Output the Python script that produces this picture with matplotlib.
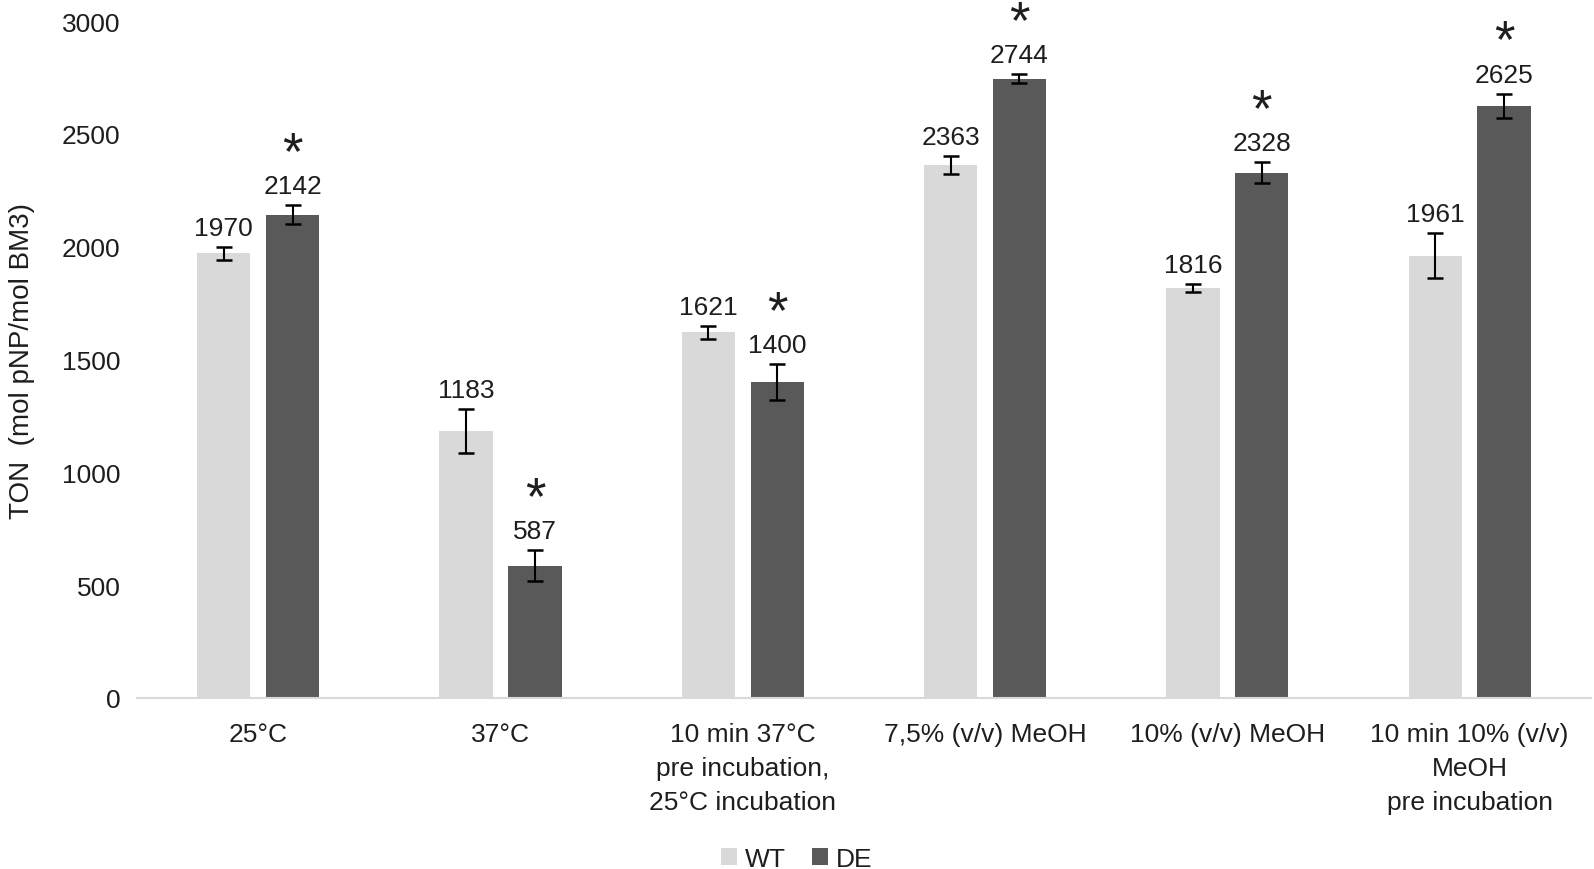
import numpy as np
import matplotlib.pyplot as plt

categories = [
    '25°C',
    '37°C',
    '10 min 37°C\npre incubation,\n25°C incubation',
    '7,5% (v/v) MeOH',
    '10% (v/v) MeOH',
    '10 min 10% (v/v)\nMeOH\npre incubation',
]
wt_values = [1970, 1183, 1621, 2363, 1816, 1961]
de_values = [2142, 587, 1400, 2744, 2328, 2625]
wt_errors = [30, 96, 29, 39, 18, 98]
de_errors = [42, 67, 79, 20, 47, 53]
de_significant = [True, True, True, True, True, True]
y_ticks = [0, 500, 1000, 1500, 2000, 2500, 3000]

plt.rcParams['font.family'] = ['Liberation Sans', 'DejaVu Sans']
text_color = '#1e1e1e'

fig = plt.figure(figsize=(15.94, 8.70), dpi=100)
ax = fig.add_axes([0.086, 0.1966, 0.912, 0.778])

x = np.arange(len(categories))
width = 0.22
offset = 0.142

wt_bars = ax.bar(x - offset, wt_values, width, color='#d9d9d9', label='WT', zorder=2)
de_bars = ax.bar(x + offset, de_values, width, color='#595959', label='DE', zorder=2)

err_style = dict(fmt='none', ecolor='black', elinewidth=1.5, capsize=6, capthick=1.8, zorder=3)
ax.errorbar(x - offset, wt_values, yerr=wt_errors, **err_style)
ax.errorbar(x + offset, de_values, yerr=de_errors, **err_style)

# value labels sit just above the error bars
for xs, vals, errs in ((x - offset, wt_values, wt_errors), (x + offset, de_values, de_errors)):
    for xi, v, e in zip(xs, vals, errs):
        ax.annotate(f'{v}', (xi, v + e), xytext=(0, 5), textcoords='offset points',
                    ha='center', va='bottom', fontsize=19, color=text_color)

for xi, v, e, sig in zip(x + offset, de_values, de_errors, de_significant):
    if sig:
        ax.annotate('*', (xi, v + e), xytext=(0, 19), textcoords='offset points',
                    ha='center', va='bottom', fontsize=38, color=text_color,
                    annotation_clip=False)

ax.set_xlim(-0.5, len(categories) - 0.5)
ax.set_ylim(0, 3000)
ax.set_yticks(y_ticks)
ax.set_xticks(x)
ax.set_xticklabels(categories, fontsize=19, color=text_color, linespacing=1.55)
ax.tick_params(axis='y', length=0, pad=12, labelsize=19, labelcolor=text_color)
ax.tick_params(axis='x', length=0, pad=17)

for side in ('top', 'right', 'left'):
    ax.spines[side].set_visible(False)
ax.spines['bottom'].set_color('#d9d9d9')
ax.spines['bottom'].set_linewidth(1.5)

ax.set_ylabel('TON  (mol pNP/mol BM3)', fontsize=20, color=text_color, labelpad=19)

fig.legend(handles=[wt_bars, de_bars], labels=['WT', 'DE'], loc='center',
           bbox_to_anchor=(0.5, 0.012), ncol=2, frameon=False, fontsize=19,
           handlelength=0.6, handleheight=0.6, handletextpad=0.3, columnspacing=1.0,
           labelcolor=text_color, borderpad=0)

fig.savefig('out.png', dpi=100)
